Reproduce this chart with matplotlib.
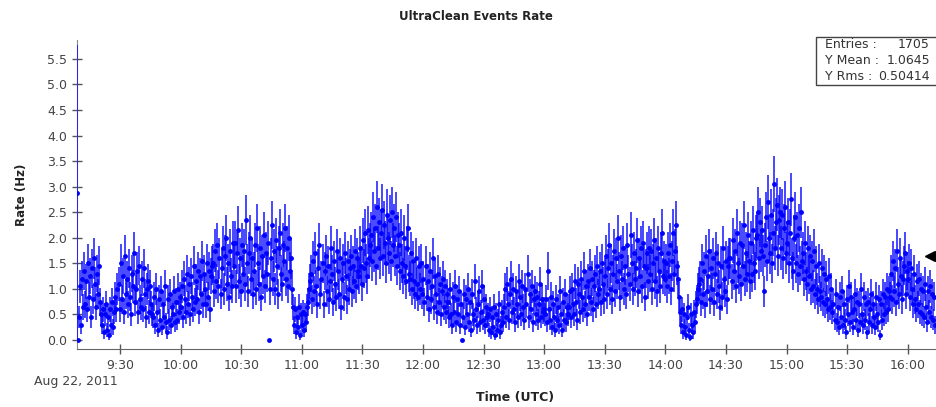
import numpy as np
import pandas as pd
import matplotlib
matplotlib.use("Agg")
import matplotlib.pyplot as plt
import matplotlib.dates as mdates
from matplotlib.ticker import FuncFormatter, MultipleLocator
from matplotlib.transforms import blended_transform_factory
from matplotlib.patches import Rectangle

# UltraClean event rate (Hz), 30 s steps, grouped by hour of Aug 22, 2011 (UTC)
rate_09 = [2.87, 0.0,
           0.45, 1.05, 0.3, 1.2, 0.65,
           1.35, 0.7, 1.15, 0.6, 1.5, 0.85, 1.25, 0.45, 1.4, 0.8, 1.6, 1.1, 0.65, 1.3, 0.9, 1.45,
           0.75, 0.5,
           0.3, 0.6, 0.15, 0.5, 0.7, 0.2, 0.45, 0.1, 0.6, 0.3, 0.75, 0.25,
           0.55, 0.85, 0.6, 1.0,
           1.1, 0.6, 1.5, 0.8, 1.25, 0.55, 1.65, 0.9, 1.2, 0.7, 1.4, 0.85, 0.5, 1.3, 1.05, 1.7, 0.75,
           1.0, 1.35, 0.55, 1.45, 0.8, 0.65, 1.2, 0.6, 1.4, 0.9, 0.45, 1.0, 1.15, 0.55, 1.05, 0.7, 0.5,
           0.45, 0.85, 0.3, 1.0, 0.55, 0.2, 0.8, 0.4, 0.95, 0.25, 0.7, 0.45, 1.05, 0.35,
           0.15, 0.8, 0.4, 0.9, 0.3, 0.65, 0.5, 0.95, 0.35, 0.75, 0.4, 1.0, 0.55, 0.85]
rate_10 = [0.65, 1.05, 0.45, 1.2, 0.8, 0.55, 1.3, 0.7, 1.1, 0.5, 1.25, 0.85, 0.6, 1.45, 0.75, 1.15,
           0.8, 1.35, 0.55, 1.25, 0.9, 1.55, 0.7, 1.3, 1.0, 0.7, 1.5, 0.85, 1.35, 0.6, 1.25, 1.45,
           1.5, 0.95, 1.75, 1.15, 1.85, 1.05, 1.6, 0.9, 1.4, 1.8, 1.0, 1.65, 2.0, 1.1, 1.5, 0.85,
           1.75, 1.25, 1.05, 1.9,
           1.45, 1.9, 1.05, 1.7, 2.15, 1.15, 1.6, 0.95, 1.85, 1.3,
           1.75, 1.1, 2.35, 1.5, 0.95, 1.7, 2.0, 1.2, 1.6, 0.9,
           1.35, 1.85, 1.0, 2.2, 1.5, 1.1, 1.8, 0.85, 1.65, 1.25,
           2.05, 1.05, 1.7, 1.3, 1.9, 0.0, 1.0, 1.6, 2.25, 1.2,
           1.75, 1.0, 1.95, 1.45, 0.9, 1.8, 2.1, 1.3, 1.1, 1.85,
           1.55, 2.2, 1.2, 1.8, 1.05, 2.0, 1.35, 1.6,
           1.0, 0.65,
           0.3, 0.6, 0.15, 0.45, 0.25, 0.65, 0.1, 0.5]
rate_11 = [0.3, 0.55, 0.2, 0.5, 0.35, 0.65,
           0.75, 1.0, 1.15,
           1.3, 0.8, 1.55, 0.95, 1.7, 1.05, 0.7, 1.4, 1.85, 0.9,
           1.2, 1.5, 0.7, 1.35, 1.65, 0.95, 1.45, 0.8, 1.15, 1.8,
           1.3, 0.75, 1.55, 1.1, 0.85, 1.75, 1.35, 0.9, 1.6, 0.65,
           1.2, 1.5, 0.85, 1.7, 1.25, 0.8, 1.55, 1.0, 1.4, 1.65,
           0.95, 1.45, 1.15, 1.75, 1.05, 1.6, 1.35,
           1.25, 1.8, 1.45, 1.1, 1.95, 1.4, 2.1, 1.5, 1.25, 2.15, 1.6, 1.85,
           2.05, 1.55, 2.4, 1.75, 2.2, 1.45, 2.6, 1.8, 2.3, 1.6,
           2.1, 2.55, 1.65, 2.25, 1.9, 1.5, 2.45, 2.0, 1.7, 2.35,
           1.55, 2.5, 1.85, 2.2, 1.65, 2.4, 1.45, 2.05,
           1.85, 1.35, 2.1, 1.5, 1.25, 2.0, 1.45, 1.15, 1.8, 2.2,
           1.3, 1.2, 1.7, 1.0, 1.55, 1.15, 0.9, 1.6, 1.1, 0.85,
           1.45, 1.0, 1.5, 0.9]
rate_12 = [1.2, 0.75, 1.45, 0.85, 1.15, 0.6, 1.35, 0.8, 1.05, 1.6,
           0.65, 1.25, 0.9, 0.55, 1.3, 0.75, 1.1, 0.5, 0.95, 1.2,
           0.65, 1.05, 0.55, 0.9,
           0.75, 0.45, 1.0, 0.5, 0.3, 0.85, 0.55, 1.05, 0.35, 0.8,
           0.5, 0.95, 0.3, 0.7, 0.0, 0.45, 0.9, 0.25, 0.8, 0.5,
           1.0, 0.35, 0.75, 0.2, 0.9, 0.5, 0.4, 1.15, 0.6, 0.3,
           0.7, 0.95, 0.35, 0.55, 1.05, 0.4, 0.8, 0.3, 0.65, 0.45,
           0.5, 0.2, 0.6, 0.15, 0.45, 0.25, 0.65, 0.1, 0.5, 0.2, 0.4, 0.7, 0.15, 0.3, 0.55, 0.35,
           0.65, 1.0, 0.45, 1.1, 0.7, 0.4, 0.9, 1.2, 0.55, 1.0,
           0.6, 0.35, 0.95, 0.7, 0.45, 1.15, 0.85, 0.5, 1.05, 0.65,
           0.4, 1.0, 0.7, 1.3, 0.45, 0.9, 0.6, 1.05, 0.35, 0.8,
           0.95, 0.5, 0.85, 0.4, 0.7, 1.1, 0.45, 0.8, 0.55, 0.6]
rate_13 = [0.5, 0.8, 0.35, 1.35, 0.6, 0.4, 0.85, 0.25, 0.7, 0.45,
           0.2, 0.8, 0.4, 0.65, 0.3, 0.95, 0.5, 0.2, 0.75, 0.4,
           0.9, 0.35, 0.65, 0.5,
           0.65, 0.95, 0.45, 1.0, 0.7, 0.5, 1.15, 0.75, 0.4, 1.1,
           0.9, 0.55, 1.2, 0.85, 0.6, 1.35, 0.7, 1.05, 0.5, 1.15,
           0.85, 1.4, 0.75, 1.2, 0.6, 1.05, 1.3, 0.7, 1.45, 0.9,
           1.0, 1.35, 0.75, 1.5, 1.1, 0.8,
           1.25, 1.65, 0.9, 1.4, 1.85, 1.0, 1.5, 0.8, 1.3, 1.75,
           0.95, 1.6, 1.15, 2.0, 1.35, 0.85, 1.65, 1.2, 1.8, 1.0,
           1.45, 0.9, 1.85, 1.3, 1.1, 2.05, 1.5, 1.0, 1.7, 1.2,
           1.4, 1.95, 0.95, 1.6, 1.25, 1.8, 1.05, 1.9, 1.45, 0.85,
           1.4, 1.7, 1.15, 1.8,
           1.3, 1.75, 1.0, 1.5, 1.95, 1.15, 1.6, 0.95, 1.8, 1.35, 1.05, 1.7, 2.1, 1.25, 1.55, 1.2]
rate_14 = [1.5, 1.05, 1.7, 1.25, 1.85, 1.0, 1.55, 2.1, 1.3, 1.75, 2.25, 1.45, 1.2,
           0.85, 0.55,
           0.3, 0.6, 0.15, 0.5, 0.25, 0.1, 0.45, 0.65, 0.2, 0.05, 0.5, 0.3, 0.15, 0.55, 0.35, 0.7,
           0.8, 1.0, 1.1,
           1.2, 0.75, 1.5, 0.9, 1.35, 0.7, 1.65, 0.95, 1.25, 1.75,
           0.8, 1.4, 1.0, 1.6, 0.75, 1.3, 1.7, 0.9, 1.5, 1.05,
           0.65, 1.45, 0.85, 1.8, 1.2, 0.95, 1.55, 0.8, 1.45, 1.6,
           1.6, 1.15, 1.95, 1.35, 1.75, 1.05, 2.1, 1.5, 1.25, 1.9,
           1.1, 1.85, 1.45, 2.25, 1.2, 1.7, 1.3, 2.05, 1.55, 1.15,
           1.9, 1.3, 2.15, 1.5, 1.35, 2.0,
           2.05, 2.5, 1.6, 2.3, 1.75, 2.15, 1.65, 0.95, 1.85, 2.4,
           1.55, 2.7, 2.0, 1.7, 2.45, 1.5, 2.1, 3.05, 1.8, 2.3,
           2.65, 1.65, 2.35, 2.5, 1.8, 2.45, 1.6, 2.2, 2.6, 1.7]
rate_15 = [1.9, 2.3, 1.5, 2.1, 2.75, 1.6, 1.35, 2.0, 2.4, 1.5, 2.05, 1.3, 2.2, 1.45, 2.5, 1.55,
           1.7, 1.2, 1.9, 1.35, 1.1, 1.8, 1.25, 1.65, 1.0, 1.55,
           1.05, 1.75, 0.9, 1.45, 1.0, 0.8, 1.5, 0.95, 0.85, 1.4,
           0.75, 1.3, 0.7, 1.2, 0.8, 0.6, 1.25, 0.65, 1.0, 0.55,
           0.7, 0.4, 0.9, 0.35, 0.65, 0.25, 0.85, 0.45, 0.95, 0.3,
           0.7, 0.4, 0.15, 0.8, 0.5, 1.05, 0.35, 0.85, 0.55, 0.25,
           0.6, 0.9, 0.4, 0.75, 0.2, 0.7, 0.35, 1.0, 0.5, 0.3,
           0.85, 0.4, 0.7, 0.15, 0.75, 0.35, 0.6, 0.9, 0.3, 0.7,
           0.45, 0.25, 0.85, 0.5, 0.35, 0.8, 0.1, 0.7, 0.4, 0.9,
           0.5, 0.85, 0.55, 1.0, 0.6, 0.95,
           0.85, 1.3, 0.8, 1.55, 0.95, 1.4, 0.75, 1.75, 1.1, 0.9, 1.6, 1.25, 0.8, 1.2, 1.45, 1.7,
           0.9, 1.35]
rate_16 = [1.2, 1.5, 0.85, 1.4, 1.0, 0.7, 1.3, 0.8, 0.6, 1.15,
           0.7, 1.2, 0.55, 1.0, 0.5, 0.95, 0.45, 1.1, 0.65, 0.35,
           0.95, 0.55, 1.05, 0.45, 0.9, 0.4, 0.85, 0.3]

hour_starts = ["2011-08-22 09:08:45", "2011-08-22 10:00:15", "2011-08-22 11:00:15",
               "2011-08-22 12:00:15", "2011-08-22 13:00:15", "2011-08-22 14:00:15",
               "2011-08-22 15:00:15", "2011-08-22 16:00:15"]
hour_rates = [rate_09, rate_10, rate_11, rate_12, rate_13, rate_14, rate_15, rate_16]

bin_seconds = 10          # exposure per point for the Poisson error bars
first_bin_err = 2.9       # first (partial) bin has a large uncertainty

stats_labels = ["Entries :", "Y Mean :", "Y Rms :"]
stats_values = ["1705", "1.0645", "0.50414"]
marker_level = 1.65

times = []
rates = []
for start, vals in zip(hour_starts, hour_rates):
    times.extend(pd.date_range(start, periods=len(vals), freq="30s"))
    rates.extend(vals)
times = pd.DatetimeIndex(times)
rates = np.array(rates, dtype=float)
errs = np.sqrt(rates / bin_seconds)
errs[0] = first_bin_err

fig = plt.figure(figsize=(9.36, 4.07), dpi=100)
ax = fig.add_axes([77 / 936, 58 / 407, 859 / 936, 309 / 407])

ax.errorbar(times, rates, yerr=errs, fmt="o", ms=3.5, mew=0, color="#0000ff",
            ecolor=(0.0, 0.0, 1.0, 0.78), elinewidth=1.3, capsize=0, zorder=3)

ax.set_xlim(pd.Timestamp("2011-08-22 09:08:42"), pd.Timestamp("2011-08-22 16:14:00"))
ax.set_ylim(-0.176, 5.87)

ax.yaxis.set_major_locator(MultipleLocator(0.5))
ax.yaxis.set_major_formatter(FuncFormatter(lambda v, p: f"{v:.1f}"))
ax.xaxis.set_major_locator(mdates.MinuteLocator(byminute=[0, 30]))
ax.xaxis.set_major_formatter(FuncFormatter(
    lambda v, p: f"{mdates.num2date(v).hour}:{mdates.num2date(v).minute:02d}"))

for side in ("top", "right"):
    ax.spines[side].set_visible(False)
ax.spines["left"].set_color("#8a8a8a")
ax.spines["bottom"].set_color("#666666")
ax.tick_params(axis="both", direction="inout", length=7, width=1, color="#555555",
               labelsize=9, labelcolor="#444444", pad=3.5)

fig.text(476 / 936, 1 - 17 / 407, "UltraClean Events Rate", ha="center", va="center",
         fontsize=8.5, fontweight="bold", color="#222222")
fig.text(22 / 936, 1 - 195 / 407, "Rate (Hz)", ha="center", va="center", rotation=90,
         fontsize=8.5, fontweight="bold", color="#222222")
fig.text(515 / 936, 1 - 398 / 407, "Time (UTC)", ha="center", va="center",
         fontsize=9, fontweight="bold", color="#222222")
fig.text(76 / 936, 1 - 381 / 407, "Aug 22, 2011", ha="center", va="center",
         fontsize=9, color="#444444")

# statistics box
fig.patches.append(Rectangle((816 / 936, 1 - 85 / 407), 130 / 936, 48 / 407,
                             transform=fig.transFigure, facecolor="white",
                             edgecolor="#444444", lw=1.0, zorder=5))
for i, (lab, val) in enumerate(zip(stats_labels, stats_values)):
    yy = 1 - (45 + 16 * i) / 407
    fig.text(825 / 936, yy, lab, ha="left", va="center", fontsize=9, color="#333333", zorder=6)
    fig.text(930 / 936, yy, val, ha="right", va="center", fontsize=9, color="#333333", zorder=6)

# level indicator at the right edge
trans = blended_transform_factory(ax.transAxes, ax.transData)
ax.plot([0.9935], [marker_level], marker="<", ms=7, color="black", transform=trans,
        clip_on=False, zorder=6)

fig.savefig("out.png", dpi=100)
